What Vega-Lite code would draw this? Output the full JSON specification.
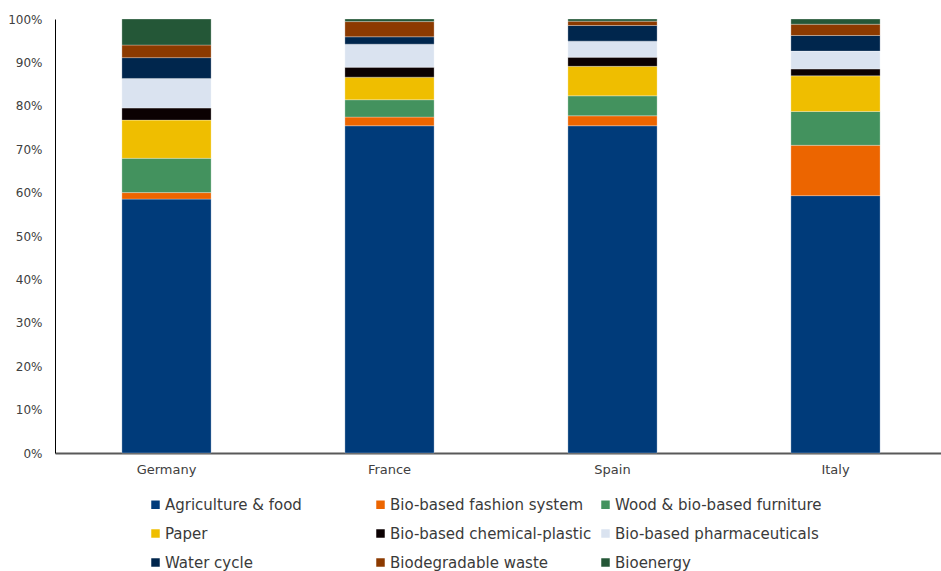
{
  "$schema": "https://vega.github.io/schema/vega-lite/v6.json",
  "width": 892,
  "height": 434,
  "autosize": {"type": "none"},
  "padding": {"left": 55, "top": 19, "right": 0, "bottom": 118},
  "background": "#ffffff",
  "config": {
    "view": {"stroke": null},
    "font": "DejaVu Sans"
  },
  "data": {
    "values": [
      {"country": "Germany", "sector": "Agriculture & food", "ord": 1, "share": 58.5},
      {"country": "Germany", "sector": "Bio-based fashion system", "ord": 2, "share": 1.5},
      {"country": "Germany", "sector": "Wood & bio-based furniture", "ord": 3, "share": 7.9},
      {"country": "Germany", "sector": "Paper", "ord": 4, "share": 8.8},
      {"country": "Germany", "sector": "Bio-based chemical-plastic", "ord": 5, "share": 2.8},
      {"country": "Germany", "sector": "Bio-based pharmaceuticals", "ord": 6, "share": 6.8},
      {"country": "Germany", "sector": "Water cycle", "ord": 7, "share": 4.8},
      {"country": "Germany", "sector": "Biodegradable waste", "ord": 8, "share": 2.9},
      {"country": "Germany", "sector": "Bioenergy", "ord": 9, "share": 6.0},

      {"country": "France", "sector": "Agriculture & food", "ord": 1, "share": 75.4},
      {"country": "France", "sector": "Bio-based fashion system", "ord": 2, "share": 2.0},
      {"country": "France", "sector": "Wood & bio-based furniture", "ord": 3, "share": 4.0},
      {"country": "France", "sector": "Paper", "ord": 4, "share": 5.2},
      {"country": "France", "sector": "Bio-based chemical-plastic", "ord": 5, "share": 2.3},
      {"country": "France", "sector": "Bio-based pharmaceuticals", "ord": 6, "share": 5.3},
      {"country": "France", "sector": "Water cycle", "ord": 7, "share": 1.7},
      {"country": "France", "sector": "Biodegradable waste", "ord": 8, "share": 3.5},
      {"country": "France", "sector": "Bioenergy", "ord": 9, "share": 0.6},

      {"country": "Spain", "sector": "Agriculture & food", "ord": 1, "share": 75.4},
      {"country": "Spain", "sector": "Bio-based fashion system", "ord": 2, "share": 2.3},
      {"country": "Spain", "sector": "Wood & bio-based furniture", "ord": 3, "share": 4.6},
      {"country": "Spain", "sector": "Paper", "ord": 4, "share": 6.8},
      {"country": "Spain", "sector": "Bio-based chemical-plastic", "ord": 5, "share": 2.1},
      {"country": "Spain", "sector": "Bio-based pharmaceuticals", "ord": 6, "share": 3.7},
      {"country": "Spain", "sector": "Water cycle", "ord": 7, "share": 3.6},
      {"country": "Spain", "sector": "Biodegradable waste", "ord": 8, "share": 1.0},
      {"country": "Spain", "sector": "Bioenergy", "ord": 9, "share": 0.5},

      {"country": "Italy", "sector": "Agriculture & food", "ord": 1, "share": 59.3},
      {"country": "Italy", "sector": "Bio-based fashion system", "ord": 2, "share": 11.6},
      {"country": "Italy", "sector": "Wood & bio-based furniture", "ord": 3, "share": 7.8},
      {"country": "Italy", "sector": "Paper", "ord": 4, "share": 8.2},
      {"country": "Italy", "sector": "Bio-based chemical-plastic", "ord": 5, "share": 1.6},
      {"country": "Italy", "sector": "Bio-based pharmaceuticals", "ord": 6, "share": 4.1},
      {"country": "Italy", "sector": "Water cycle", "ord": 7, "share": 3.6},
      {"country": "Italy", "sector": "Biodegradable waste", "ord": 8, "share": 2.6},
      {"country": "Italy", "sector": "Bioenergy", "ord": 9, "share": 1.2}
    ]
  },
  "mark": {"type": "bar", "stroke": "#ffffff", "strokeWidth": 0.4, "strokeOpacity": 0.7},
  "encoding": {
    "x": {
      "field": "country",
      "type": "nominal",
      "sort": ["Germany", "France", "Spain", "Italy"],
      "scale": {"paddingInner": 0.6, "paddingOuter": 0.3},
      "axis": {
        "title": null,
        "labelAngle": 0,
        "ticks": false,
        "domainColor": "#595959",
        "domainWidth": 2,
        "labelFontSize": 13,
        "labelColor": "#404040",
        "labelPadding": 10
      }
    },
    "y": {
      "field": "share",
      "type": "quantitative",
      "stack": "normalize",
      "scale": {"domain": [0, 1], "nice": false},
      "axis": {
        "title": null,
        "values": [0, 0.1, 0.2, 0.3, 0.4, 0.5, 0.6, 0.7, 0.8, 0.9, 1],
        "format": ".0%",
        "grid": false,
        "ticks": false,
        "domainColor": "#000000",
        "domainWidth": 1,
        "labelFontSize": 12,
        "labelColor": "#404040",
        "labelPadding": 13
      }
    },
    "order": {"field": "ord", "type": "quantitative"},
    "color": {
      "field": "sector",
      "type": "nominal",
      "scale": {
        "domain": [
          "Agriculture & food", "Bio-based fashion system", "Wood & bio-based furniture",
          "Paper", "Bio-based chemical-plastic", "Bio-based pharmaceuticals",
          "Water cycle", "Biodegradable waste", "Bioenergy"
        ],
        "range": [
          "#003b7a", "#ec6500", "#43925e",
          "#efbe00", "#0b0102", "#dae3f0",
          "#00264d", "#8c3a00", "#245737"
        ]
      },
      "legend": {
        "title": null,
        "orient": "none",
        "legendX": 93,
        "legendY": 478,
        "direction": "horizontal",
        "columns": 3,
        "gridAlign": "all",
        "columnPadding": 1,
        "rowPadding": 13,
        "symbolType": "square",
        "symbolSize": 72,
        "symbolStrokeWidth": 0,
        "symbolOffset": 0,
        "labelOffset": 2,
        "labelFontSize": 15,
        "labelColor": "#3a3a3a",
        "labelLimit": 400,
        "padding": 0
      }
    }
  }
}
